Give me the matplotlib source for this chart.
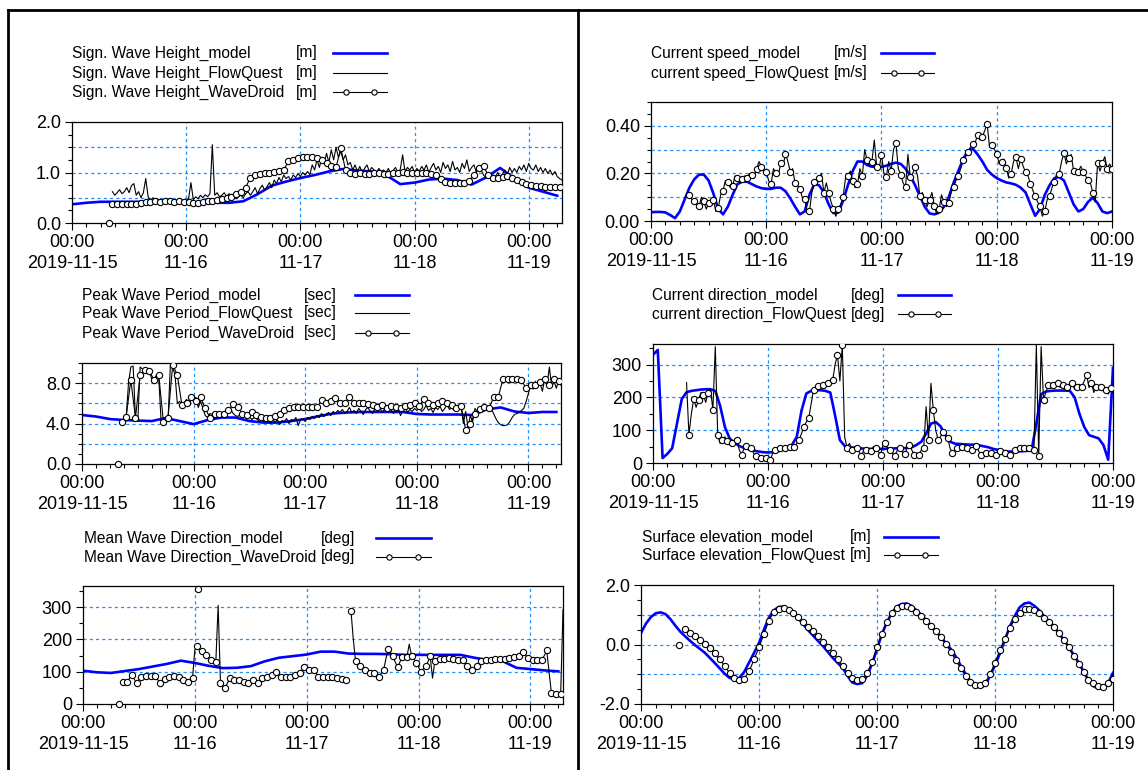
import numpy as np
import matplotlib
matplotlib.use("Agg")
import matplotlib.pyplot as plt
from matplotlib.lines import Line2D
from matplotlib.ticker import FixedLocator, MultipleLocator, FormatStrFormatter

plt.rcParams['font.family'] = ['Liberation Sans', 'DejaVu Sans']

# ---------------- data (time axis: hours after 2019-11-15 00:00) ----------------
day_ticks = [0, 24, 48, 72, 96]
day_labels = ['00:00\n2019-11-15', '00:00\n11-16', '00:00\n11-17', '00:00\n11-18', '00:00\n11-19']

# Sign. Wave Height [m]
hs_model = [0.37, 0.40, 0.42, 0.42, 0.42, 0.42, 0.42, 0.42, 0.41, 0.40, 0.40, 0.40, 0.43, 0.57, 0.74,
            0.82, 0.89, 0.95, 1.02, 1.07, 1.04, 1.02, 0.95, 0.77, 0.80, 0.86, 0.88, 0.85, 0.76, 0.90,
            1.09, 0.88, 0.70, 0.62, 0.54]                      # every 3 h from 0
hs_flowquest = [0.62, 0.55, 0.60, 0.66, 0.58, 0.62, 0.70, 0.60, 0.74, 0.78, 0.55, 0.62, 0.50, 0.60, 0.88, 0.52,
                0.45, 0.50, 0.44, 0.48, 0.42, 0.46, 0.44, 0.43, 0.47, 0.42, 0.45, 0.41, 0.44, 0.46, 0.43, 0.45,
                0.48, 0.80, 0.46, 0.52, 0.48, 0.55, 0.50, 0.56, 0.52, 0.58, 1.55, 0.55, 0.60, 0.52,
                0.55, 0.60, 0.52, 0.58, 0.55, 0.50, 0.48, 0.52, 0.55, 0.50, 0.58, 0.62,
                0.55, 0.62, 0.70, 0.58, 0.68, 0.75, 0.65, 0.72, 0.80, 0.70, 0.85, 0.78,
                0.90, 0.82, 0.95, 0.88, 0.92, 0.85, 0.95, 0.90, 0.98, 0.92, 1.00, 0.95,
                1.02, 0.96, 1.15, 1.05, 1.25, 1.10, 1.30, 1.18, 1.38, 1.20, 1.45, 1.25,
                1.50, 1.30, 1.42, 1.25, 1.35, 1.15,
                1.20, 1.05, 1.15, 1.02, 1.12, 1.00, 1.08, 1.15, 1.02, 1.10, 1.05, 1.00, 1.08, 1.02,
                1.05, 1.00, 1.08, 0.98, 1.04, 1.10, 1.00, 1.06, 1.35, 1.02, 1.10, 1.05, 1.12, 1.00,
                1.08, 1.02, 1.12, 1.05, 1.15, 1.00, 1.10, 1.18, 1.05, 1.12, 1.00, 1.20, 1.08, 1.15,
                1.02, 1.22, 1.05, 1.10, 1.00, 1.18, 1.08, 1.25, 1.02, 1.10, 1.15, 1.00, 1.12, 1.05,
                0.95, 0.90, 0.98, 0.88, 0.95, 0.92, 1.00, 0.90, 0.97, 1.05, 0.95, 1.10, 1.00, 1.08,
                1.00, 1.12, 1.05, 1.15, 1.02, 1.18, 1.08, 1.05, 1.15, 1.02, 1.10, 1.00, 1.08, 0.98,
                1.05, 0.95, 1.02, 0.92, 0.88, 0.85]                 # every 0.5 h from 8.5
hs_wavedroid = [0.38, 0.38, 0.38, 0.38, 0.38, 0.38, 0.40, 0.42, 0.41, 0.44, 0.42, 0.44, 0.43, 0.41, 0.44, 0.42,
                0.41, 0.40, 0.40, 0.42, 0.43, 0.44, 0.46, 0.48, 0.50, 0.52, 0.58, 0.62, 0.70, 0.90, 0.95, 0.97,
                0.99, 1.00, 1.01, 1.03, 1.05, 1.22, 1.25, 1.28, 1.30, 1.31, 1.30, 1.28, 1.25, 1.18, 1.12, 1.10,
                1.48, 1.05, 1.00, 0.98, 0.99, 0.98, 0.97, 0.99, 1.00, 0.98, 0.97, 1.00, 1.00, 1.01, 1.00,
                1.00, 1.00, 0.99, 0.99, 0.97, 0.95, 0.88, 0.82, 0.80, 0.80, 0.79, 0.80, 0.84, 0.95, 1.08, 1.12,
                0.95, 0.90, 0.90, 0.92, 0.93, 0.90, 0.85, 0.82, 0.78, 0.75, 0.74, 0.73, 0.72, 0.72, 0.72, 0.72]  # hourly from 8.5

# Peak Wave Period [sec]
tp_model = [4.85, 4.70, 4.45, 4.35, 4.30, 4.25, 4.55, 4.25, 3.95, 4.35, 4.60, 4.60, 4.25, 4.10, 4.10,
            4.25, 4.45, 4.75, 5.00, 5.10, 5.15, 5.15, 5.15, 5.15, 4.95, 4.90, 4.90, 4.90, 4.85, 5.40,
            5.60, 5.20, 5.05, 5.15, 5.15]                      # every 3 h from 0
tp_flowquest = [4.3, 4.2, 4.6, 8.0, 9.6, 9.7, 4.4, 4.2, 9.6, 9.4, 9.3, 9.0, 9.2, 8.4, 8.4, 8.8,
                8.6, 4.3, 4.2, 4.4, 4.3, 9.8, 9.6, 8.8, 6.0, 6.2, 5.8, 6.1, 6.4, 5.8, 6.5, 6.2,
                6.6, 5.6, 6.2, 5.5, 4.8, 4.6, 5.0, 4.9, 5.2, 4.8, 5.0, 5.1, 4.9, 5.0,
                5.2, 5.4, 5.0, 4.8, 4.7, 4.9, 4.6, 4.8, 4.5, 4.7, 4.4, 4.6,
                4.5, 4.3, 4.6, 4.2, 4.4, 4.3, 4.0, 4.5, 4.1, 4.4, 3.9, 4.3,
                4.2, 4.5, 4.0, 4.4, 4.3, 4.6, 3.8, 4.4, 4.5, 4.2, 4.6, 4.4,
                4.7, 4.5, 4.8, 4.6, 5.0, 4.7, 4.9, 5.1, 4.8, 5.2, 5.0, 5.3,
                5.1, 5.4, 5.0, 5.2, 5.6, 5.1,
                5.3, 5.0, 5.5, 5.2, 4.9, 5.4, 5.6, 5.2, 5.0, 5.5, 5.3, 5.7, 5.1, 5.4,
                5.2, 5.6, 5.3, 5.0, 5.5, 5.4, 4.8, 5.3, 5.6, 5.1, 5.4, 5.2, 5.5, 5.3,
                5.6, 5.2, 5.4, 5.8, 5.3, 5.5, 5.1, 5.6, 5.4, 5.7, 5.2, 5.5, 5.9, 5.4,
                5.6, 5.3, 5.8, 5.5, 5.9, 4.0, 5.2, 3.6, 4.8, 4.2, 5.5, 5.2, 5.6, 5.4,
                5.5, 5.6, 5.6, 5.5, 5.0, 4.5, 4.1, 3.9, 3.8, 3.8, 3.9, 4.2, 4.6, 4.9,
                5.0, 5.1, 5.3, 5.5, 6.2, 7.0, 7.8, 7.4, 8.2, 7.6, 8.0, 7.2, 8.4, 7.8,
                9.6, 7.6, 8.2, 7.5, 8.3, 7.8]                      # every 0.5 h from 8.5
tp_wavedroid = [4.2, 4.7, 8.3, 4.6, 8.8, 9.3, 9.2, 8.3, 8.8, 4.2, 4.6, 9.8, 8.8, 5.8, 6.0, 6.6, 6.2, 6.6, 5.5, 4.6,
                5.0, 5.0, 5.0, 5.3, 5.9, 5.6, 5.0, 4.9, 5.1, 4.9, 4.7, 4.6, 4.6, 4.8, 5.0, 5.3, 5.5, 5.6, 5.6, 5.6,
                5.6, 5.6, 5.6, 6.3, 6.0, 6.2, 6.5, 6.0, 6.0, 6.6, 6.0, 6.0, 6.0, 5.9, 5.8, 5.6, 5.8, 5.5, 5.7, 5.6,
                5.5, 5.7, 5.8, 6.0, 5.7, 6.4, 6.0, 5.8, 6.0, 6.2, 6.0, 5.8, 5.5, 5.7, 3.4, 4.0, 5.0, 5.4, 5.6, 5.5,
                6.6, 6.6, 8.4, 8.4, 8.4, 8.4, 8.3, 7.5, 7.8, 7.8, 8.1, 8.4, 7.8, 8.4, 8.2]  # hourly from 8.5

# Mean Wave Direction [deg]
mwd_model = [103, 98, 96, 102, 108, 116, 124, 134, 127, 118, 111, 112, 117, 132, 143, 148, 153, 162,
             162, 156, 155, 155, 154, 152, 152, 152, 152, 152, 143, 136, 133, 112, 108, 104, 101]  # every 3 h
mwd_wavedroid = [69, 69, 69, 80, 90, 77, 64, 75, 85, 87, 88, 88, 88, 87, 86, 76, 66, 72, 77, 81,
                 85, 86, 86, 84, 82, 78, 75, 72, 69, 75, 80, 168, 178, 171, 165, 158, 152, 143, 135, 132,
                 130, 305, 64, 55, 49, 65, 80, 76, 73, 73, 73, 71, 69, 66, 64, 69, 73, 68, 64, 72,
                 80, 83, 85, 88, 90, 95, 100, 92, 85, 85, 85, 85, 85, 88, 90, 92, 95, 104, 114, 110,
                 106, 105, 104, 95, 85, 84, 83, 84, 85, 84, 83, 78, 80, 78, 76, 74, 73, np.nan, 289, 200,
                 132, 120, 116, 110, 104, 100, 97, 97, 97, 91, 85, 95, 104, 140, 171, 160, 147, 130, 114, 130,
                 145, 145, 145, 185, 150, 140, 128, 114, 100, 108, 116, 130, 147, 80, 132, 135, 139, 139, 139, 140,
                 142, 140, 139, 138, 137, 137, 137, 128, 118, 110, 104, 111, 118, 125, 132, 135, 137, 137, 137, 138,
                 139, 139, 139, 139, 139, 140, 142, 144, 145, 147, 149, 155, 160, 150, 142, 140, 137, 137, 137, 137,
                 137, 150, 166, 100, 35, 33, 31, 31, 31, 292]         # every 0.5 h from 8.5
mwd_wavedroid_single_t = [7.8, 24.7]
mwd_wavedroid_single = [0, 356]

# Current speed [m/s]
cs_model = [0.037, 0.038, 0.038, 0.036, 0.025, 0.012, 0.040, 0.090, 0.140, 0.175, 0.195, 0.195, 0.170,
            0.115, 0.050, 0.028, 0.060, 0.110, 0.155, 0.165, 0.165, 0.155, 0.145, 0.138, 0.135, 0.135,
            0.140, 0.140, 0.125, 0.095, 0.060, 0.028, 0.040, 0.110, 0.155, 0.150, 0.120, 0.070, 0.033,
            0.035, 0.085, 0.150, 0.210, 0.250, 0.250, 0.235, 0.228, 0.228, 0.228, 0.232, 0.240, 0.245,
            0.240, 0.220, 0.190, 0.150, 0.105, 0.060, 0.032, 0.028, 0.035, 0.060, 0.100, 0.160, 0.210,
            0.260, 0.295, 0.305, 0.280, 0.250, 0.215, 0.195, 0.180, 0.170, 0.162, 0.158, 0.152, 0.140,
            0.120, 0.070, 0.022, 0.050, 0.110, 0.150, 0.180, 0.185, 0.170, 0.120, 0.070, 0.040, 0.050,
            0.080, 0.098, 0.075, 0.040, 0.033, 0.040]             # hourly from 0
cs_flowquest = [0.110, 0.09, 0.082, 0.07, 0.061, 0.10, 0.082, 0.05, 0.075, 0.09, 0.089, 0.04, 0.054, 0.11,
                0.128, 0.17, 0.165, 0.14, 0.147, 0.19, 0.179, 0.16, 0.176, 0.19, 0.180, 0.20, 0.193, 0.18,
                0.220, 0.25, 0.228, 0.21, 0.205, 0.17, 0.154, 0.22, 0.203, 0.19, 0.242, 0.23, 0.283, 0.25,
                0.207, 0.22, 0.158, 0.15, 0.133, 0.10, 0.092, 0.04, 0.040, 0.12, 0.165, 0.15, 0.179, 0.20,
                0.119, 0.16, 0.119, 0.08, 0.050, 0.02, 0.050, 0.07, 0.100, 0.18, 0.189, 0.21, 0.170, 0.14,
                0.155, 0.22, 0.189, 0.30, 0.256, 0.23, 0.249, 0.34, 0.228, 0.22, 0.279, 0.20, 0.186, 0.25,
                0.210, 0.30, 0.328, 0.22, 0.195, 0.16, 0.142, 0.28, 0.185, 0.20, 0.225, 0.19, 0.103, 0.12,
                0.090, 0.06, 0.090, 0.12, 0.061, 0.03, 0.050, 0.11, 0.080, 0.06, 0.075, 0.12, 0.142, 0.17,
                0.189, 0.22, 0.256, 0.27, 0.290, 0.31, 0.325, 0.33, 0.360, 0.34, 0.353, 0.38, 0.408, 0.31,
                0.320, 0.30, 0.283, 0.24, 0.250, 0.26, 0.221, 0.18, 0.197, 0.25, 0.267, 0.22, 0.262, 0.23,
                0.205, 0.19, 0.156, 0.13, 0.103, 0.08, 0.061, 0.02, 0.040, 0.09, 0.103, 0.14, 0.165, 0.20,
                0.197, 0.25, 0.286, 0.24, 0.263, 0.28, 0.210, 0.20, 0.207, 0.23, 0.207, 0.19, 0.172, 0.16,
                0.119, 0.08, 0.242, 0.21, 0.244, 0.27, 0.220, 0.24, 0.220]  # every 0.5 h from 8.0

# Current direction [deg]
cd_model = [330, 345, 15, 28, 45, 120, 195, 216, 220, 222, 224, 225, 225, 220, 175, 110, 75, 62, 52, 46,
            42, 38, 35, 33, 32, 33, 35, 40, 46, 55, 80, 160, 212, 220, 222, 222, 220, 215, 145, 70,
            52, 48, 46, 45, 44, 43, 43, 43, 43, 44, 44, 45, 45, 46, 48, 55, 65, 90, 120, 125,
            112, 85, 65, 59, 58, 57, 56, 56, 54, 51, 48, 43, 40, 37, 35, 35, 35, 36, 37, 38,
            120, 210, 218, 220, 221, 221, 221, 220, 200, 150, 110, 85, 80, 75, 55, 10, 290]  # hourly
cd_flowquest = [245, 86, 150, 195, 170, 192, 215, 208, 185, 213, 225, 162, 355, 86, 60, 71, 80, 66, 55, 61,
                70, 71, 40, 25, 45, 51, 40, 46, 30, 20, 25, 15, 20, 15, 12, 10, 30, 41, 44, 46,
                46, 46, 48, 49, 50, 49, 60, 71, 90, 111, 125, 137, 180, 223, 230, 235, 238, 237, 240, 243,
                250, 253, 300, 330, 250, 360, 80, 46, 60, 41, 50, 46, 35, 20, 40, 41, 30, 36, 50, 46,
                35, 25, 55, 61, 45, 41, 30, 22, 40, 46, 35, 26, 45, 56, 40, 25, 30, 25, 40, 46,
                172, 71, 243, 162, 100, 71, 80, 96, 85, 76, 45, 30, 40, 46, 50, 49, 45, 46, 40, 41,
                50, 51, 35, 25, 32, 30, 35, 30, 28, 25, 30, 36, 30, 30, 28, 25, 35, 41, 45, 46,
                42, 46, 40, 46, 45, 40, 360, 22, 355, 193, 215, 238, 228, 238, 245, 243, 230, 238, 225, 233,
                240, 243, 225, 233, 240, 233, 250, 268, 230, 243, 215, 233, 225, 233, 220, 223, 210, 228, 215]
# every 0.5 h from 7.0

# Surface elevation [m]
se_model = [0.39, 0.70, 0.92, 1.05, 1.08, 1.02, 0.85, 0.63, 0.43, 0.27, 0.12, -0.02, -0.15, -0.28, -0.45,
            -0.62, -0.80, -0.98, -1.12, -1.17, -1.12, -0.92, -0.60, -0.28, 0.05, 0.50, 0.90, 1.15, 1.26,
            1.28, 1.18, 1.05, 0.88, 0.68, 0.48, 0.30, 0.12, -0.05, -0.25, -0.45, -0.62, -0.78, -1.05,
            -1.28, -1.33, -1.30, -1.05, -0.65, -0.15, 0.35, 0.75, 1.05, 1.27, 1.36, 1.38, 1.30, 1.15,
            1.00, 0.82, 0.62, 0.45, 0.25, 0.05, -0.15, -0.40, -0.70, -0.98, -1.25, -1.40, -1.44, -1.38,
            -1.05, -0.70, -0.30, 0.15, 0.60, 0.95, 1.25, 1.38, 1.41, 1.30, 1.15, 0.95, 0.78, 0.60, 0.38,
            0.15, -0.08, -0.35, -0.60, -0.90, -1.20, -1.40, -1.48, -1.46, -1.30, -0.95]  # hourly from 0
se_flowquest = [0.52, 0.40, 0.28, 0.14, 0.02, -0.12, -0.30, -0.50, -0.72, -0.95, -1.12, -1.20, -1.15, -0.90,
                -0.50, -0.10, 0.35, 0.80, 1.10, 1.20, 1.22, 1.15, 1.05, 0.92, 0.75, 0.60, 0.45, 0.28, 0.10,
                -0.08, -0.28, -0.50, -0.72, -0.95, -1.12, -1.20, -1.15, -0.95, -0.60, -0.10, 0.35, 0.75,
                1.05, 1.22, 1.30, 1.30, 1.22, 1.10, 0.95, 0.80, 0.62, 0.45, 0.25, 0.02, -0.25, -0.52, -0.80,
                -1.05, -1.25, -1.35, -1.37, -1.28, -1.00, -0.62, -0.18, 0.20, 0.55, 0.85, 1.05, 1.18, 1.20,
                1.15, 1.05, 0.90, 0.75, 0.58, 0.38, 0.15, -0.10, -0.38, -0.65, -0.92, -1.20, -1.30, -1.40,
                -1.42, -1.30, -1.15]                                   # hourly from 9

first_sample_t = 7.8
first_sample = 0.0

# ---------------- drawing ----------------
W, H = 1148, 770
BLUE = '#0000ff'
GRID = '#1e90ff'
fig = plt.figure(figsize=(W / 100, H / 100), dpi=100)
renderer = fig.canvas.get_renderer()


def t_axis(start, step, vals):
    return start + step * np.arange(len(vals))


def make_ax(box, xmax, ylim, yticks, fmt, ygrid, yminor):
    l, t, r, b = box
    ax = fig.add_axes([l / W, 1 - b / H, (r - l) / W, (b - t) / H])
    ax.set_xlim(0, xmax)
    ax.set_ylim(*ylim)
    ax.set_xticks(day_ticks, day_labels)
    ax.xaxis.set_minor_locator(MultipleLocator(3))
    ax.yaxis.set_major_locator(FixedLocator(yticks))
    ax.yaxis.set_major_formatter(FormatStrFormatter(fmt))
    ax.yaxis.set_minor_locator(MultipleLocator(yminor))
    ax.tick_params(which='major', direction='out', length=5, width=0.8, labelsize=13, pad=3)
    ax.tick_params(which='minor', direction='out', length=3, width=0.8)
    for lab in ax.get_xticklabels():
        lab.set_linespacing(1.3)
    for d in day_ticks[1:]:
        if d < xmax:
            ax.axvline(d, color=GRID, lw=0.9, ls=(0, (2.5, 2.5)), zorder=1)
    for g in ygrid:
        ax.axhline(g, color=GRID, lw=0.9, ls=(0, (2.5, 2.5)), zorder=1)
    for s in ax.spines.values():
        s.set_linewidth(0.9)
    return ax


def model_line(ax, t, v):
    ax.plot(t, v, color=BLUE, lw=1.9, zorder=2)


def obs_line(ax, t, v, every=None):
    if every is None:
        ax.plot(t, v, color='black', lw=0.8, zorder=3)
    else:
        ax.plot(t, v, color='black', lw=0.8, marker='o', ms=4.5, mfc='white', mec='black',
                mew=0.8, markevery=every, zorder=3)


def single_points(ax, t, v):
    ax.plot(t, v, ls='none', marker='o', ms=4.5, mfc='white', mec='black', mew=0.8,
            zorder=4, clip_on=False)


def legend(rows, x_text, x_unit, x_line):
    # label column, unit column aligned after the longest label, then the line sample
    labels = []
    for label, unit, y, kind in rows:
        labels.append(fig.text(x_text / W, 1 - y / H, label, fontsize=11.2, va='center', ha='left'))
    widest = max(t.get_window_extent(renderer).width for t in labels)
    ux = max(x_unit, x_text + widest + 5)
    units = []
    for label, unit, y, kind in rows:
        units.append(fig.text(ux / W, 1 - y / H, unit, fontsize=11.2, va='center', ha='left'))
    uw = max(t.get_window_extent(renderer).width for t in units)
    x0, x1 = x_line
    shift = max(0, ux + uw + 12 - x0)
    x0, x1 = x0 + shift, x1 + shift
    for label, unit, y, kind in rows:
        yy = 1 - y / H
        if kind == 'model':
            ln = Line2D([x0 / W, x1 / W], [yy, yy], color=BLUE, lw=1.9, transform=fig.transFigure)
        elif kind == 'line':
            ln = Line2D([x0 / W, x1 / W], [yy, yy], color='black', lw=0.8, transform=fig.transFigure)
        else:
            L = x1 - x0
            xs = [x0, x0 + 0.24 * L, x0 + 0.76 * L, x1]
            ln = Line2D([x / W for x in xs], [yy] * 4, color='black', lw=0.8, marker='o', ms=3.8,
                        mfc='white', mec='black', mew=0.8, markevery=[1, 2], transform=fig.transFigure)
        fig.add_artist(ln)


# panel 1: significant wave height
ax1 = make_ax((72, 122, 562, 223), 103, (0, 2), [0, 1, 2], '%.1f', [0.5, 1.0, 1.5], 0.25)
model_line(ax1, t_axis(0, 3, hs_model), hs_model)
obs_line(ax1, t_axis(8.5, 0.5, hs_flowquest), hs_flowquest)
obs_line(ax1, t_axis(8.5, 1, hs_wavedroid), hs_wavedroid, every=1)
single_points(ax1, [first_sample_t], [first_sample])
legend([('Sign. Wave Height_model', '[m]', 53, 'model'),
        ('Sign. Wave Height_FlowQuest', '[m]', 73, 'line'),
        ('Sign. Wave Height_WaveDroid', '[m]', 92, 'marker')], 72, 296, (333, 387))

# panel 2: peak wave period
ax2 = make_ax((82, 363, 561, 464), 103, (0, 10), [0, 4, 8], '%.1f', [2, 4, 6, 8], 1)
model_line(ax2, t_axis(0, 3, tp_model), tp_model)
obs_line(ax2, t_axis(8.5, 0.5, tp_flowquest), tp_flowquest)
obs_line(ax2, t_axis(8.5, 1, tp_wavedroid), tp_wavedroid, every=1)
single_points(ax2, [first_sample_t], [first_sample])
legend([('Peak Wave Period_model', '[sec]', 295, 'model'),
        ('Peak Wave Period_FlowQuest', '[sec]', 313, 'line'),
        ('Peak Wave Period_WaveDroid', '[sec]', 333, 'marker')], 82, 304, (355, 409))

# panel 3: mean wave direction
ax3 = make_ax((83, 586, 563, 704), 103, (0, 365), [0, 100, 200, 300], '%d', [100, 200, 300], 50)
model_line(ax3, t_axis(0, 3, mwd_model), mwd_model)
obs_line(ax3, t_axis(8.5, 0.5, mwd_wavedroid), mwd_wavedroid, every=2)
single_points(ax3, mwd_wavedroid_single_t, mwd_wavedroid_single)
legend([('Mean Wave Direction_model', '[deg]', 538, 'model'),
        ('Mean Wave Direction_WaveDroid', '[deg]', 557, 'marker')], 84, 321, (376, 431))

# panel 4: current speed
ax4 = make_ax((651, 102, 1112, 221), 96, (0, 0.5), [0, 0.2, 0.4], '%.2f', [0.1, 0.2, 0.3, 0.4], 0.05)
model_line(ax4, t_axis(0, 1, cs_model), cs_model)
obs_line(ax4, t_axis(8.0, 0.5, cs_flowquest), cs_flowquest, every=2)
legend([('Current speed_model', '[m/s]', 53, 'model'),
        ('current speed_FlowQuest', '[m/s]', 73, 'marker')], 651, 832, (881, 934))

# panel 5: current direction
ax5 = make_ax((653, 344, 1113, 463), 96, (0, 363), [0, 100, 200, 300], '%d', [100, 200, 300], 50)
model_line(ax5, t_axis(0, 1, cd_model), cd_model)
obs_line(ax5, t_axis(7.0, 0.5, cd_flowquest), cd_flowquest, every=(1, 2))
legend([('Current direction_model', '[deg]', 295, 'model'),
        ('current direction_FlowQuest', '[deg]', 314, 'marker')], 652, 851, (898, 951))

# panel 6: surface elevation
ax6 = make_ax((641, 585, 1113, 704), 96, (-2, 2), [-2, 0, 2], '%.1f', [-1, 0, 1], 0.5)
model_line(ax6, t_axis(0, 1, se_model), se_model)
obs_line(ax6, t_axis(9, 1, se_flowquest), se_flowquest, every=1)
single_points(ax6, [first_sample_t], [first_sample])
legend([('Surface elevation_model', '[m]', 537, 'model'),
        ('Surface elevation_FlowQuest', '[m]', 555, 'marker')], 642, 843, (881, 935))

# page frame lines
for xs, ys in [([8, 8], [10, H]), ([8, W], [10, 10]), ([578, 578], [10, H])]:
    fig.add_artist(Line2D([x / W for x in xs], [1 - y / H for y in ys], color='black', lw=2.0,
                          transform=fig.transFigure))

fig.savefig('out.png', dpi=100)
